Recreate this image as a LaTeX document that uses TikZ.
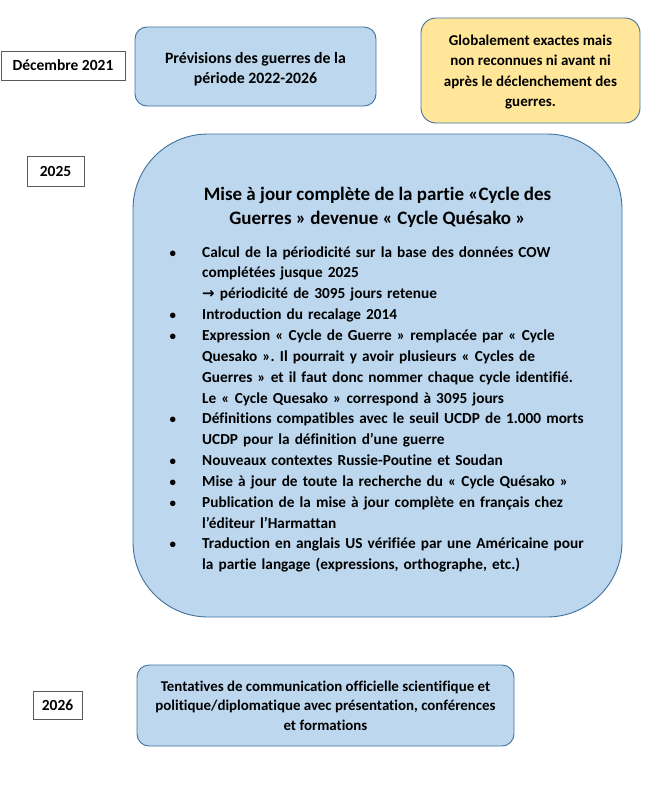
\documentclass[tikz,border=0pt]{standalone}
\usepackage{fontspec}
\setmainfont{Carlito}[Ligatures=NoCommon]
\usepackage{enumitem}
\frenchspacing

\definecolor{boxblue}{HTML}{BDD7EE}
\definecolor{boxedge}{HTML}{41719C}
\definecolor{boxyellow}{HTML}{FFE699}

\tikzset{
    datebox/.style={draw=black!65, line width=0.7pt, fill=white, font=\bfseries\fontsize{15.5}{18}\selectfont},
    bluebox/.style={draw=boxedge, line width=0.9pt, fill=boxblue, rounded corners=12pt, align=center},
    notebox/.style={draw=boxedge, line width=0.9pt, fill=boxyellow, rounded corners=15pt, align=center}
}

\begin{document}
\begin{tikzpicture}[x=1pt, y=-1pt]

    % cadre de la page
    \useasboundingbox (0,0) rectangle (656,803);

    % dates
    \node[datebox, minimum width=124pt, minimum height=29pt] (dec) at (63,65.5) {Décembre 2021};
    \node[datebox, minimum width=57pt, minimum height=30pt] (an25) at (55.5,171) {2025};
    \node[datebox, minimum width=49pt, minimum height=28pt] (an26) at (57.5,705) {2026};

    % boîtes du haut
    \node[bluebox, minimum width=241pt, minimum height=79pt] (prev) at (255.5,66.5) {};
    \node[font=\bfseries\fontsize{15.8}{20}\selectfont, align=center] (prevtxt) at (255.5,69)
        {Prévisions des guerres de la\\période 2022-2026};
    \node[notebox, minimum width=219pt, minimum height=105pt] (glob) at (530.5,70.5) {};
    \node[font=\bfseries\fontsize{15}{20.2}\selectfont, align=center] (globtxt) at (530.5,72)
        {Globalement exactes mais\\non reconnues ni avant ni\\après le déclenchement des\\guerres.};

    % grande boîte 2025
    \node[bluebox, rounded corners=75pt, minimum width=489pt, minimum height=483pt] (maj) at (377.5,375.5) {};
    \node[font=\bfseries\fontsize{19}{24}\selectfont, align=center, anchor=north] (titre) at (377.5,183.5)
        {Mise à jour complète de la partie «Cycle des\\Guerres » devenue « Cycle Quésako »};
    \node[font=\bfseries\fontsize{15.3}{20.85}\selectfont, text width=440pt, anchor=north west, inner sep=0pt] (liste) at (160,236)
    {%
    \begin{itemize}[leftmargin=42pt, labelsep=26pt, itemsep=0pt, topsep=0pt, parsep=0pt, partopsep=0pt,
                    label={\fontsize{13}{13}\selectfont\textbullet}]
        \item Calcul de la périodicité sur la base des données COW\\
              complétées jusque 2025\\
              {\fontspec{DejaVu Sans}\fontsize{15}{20}\selectfont →} périodicité de 3095 jours retenue
        \item Introduction du recalage 2014
        \item Expression « Cycle de Guerre » remplacée par « Cycle\\
              Quesako ». Il pourrait y avoir plusieurs « Cycles de\\
              Guerres » et il faut donc nommer chaque cycle identifié.\\
              Le « Cycle Quesako » correspond à 3095 jours
        \item Définitions compatibles avec le seuil UCDP de 1.000 morts\\
              UCDP pour la définition d’une guerre
        \item Nouveaux contextes Russie-Poutine et Soudan
        \item Mise à jour de toute la recherche du « Cycle Quésako »
        \item Publication de la mise à jour complète en français chez\\
              l’éditeur l’Harmattan
        \item Traduction en anglais US vérifiée par une Américaine pour\\
              la partie langage (expressions, orthographe, etc.)
    \end{itemize}%
    };

    % boîte 2026
    \node[bluebox, minimum width=377pt, minimum height=81pt] (tent) at (325.5,705.5) {};
    \node[font=\bfseries\fontsize{14.9}{19.5}\selectfont, align=center] (tenttxt) at (tent)
        {Tentatives de communication officielle scientifique et\\politique/diplomatique avec présentation, conférences\\et formations};

\end{tikzpicture}
\end{document}
